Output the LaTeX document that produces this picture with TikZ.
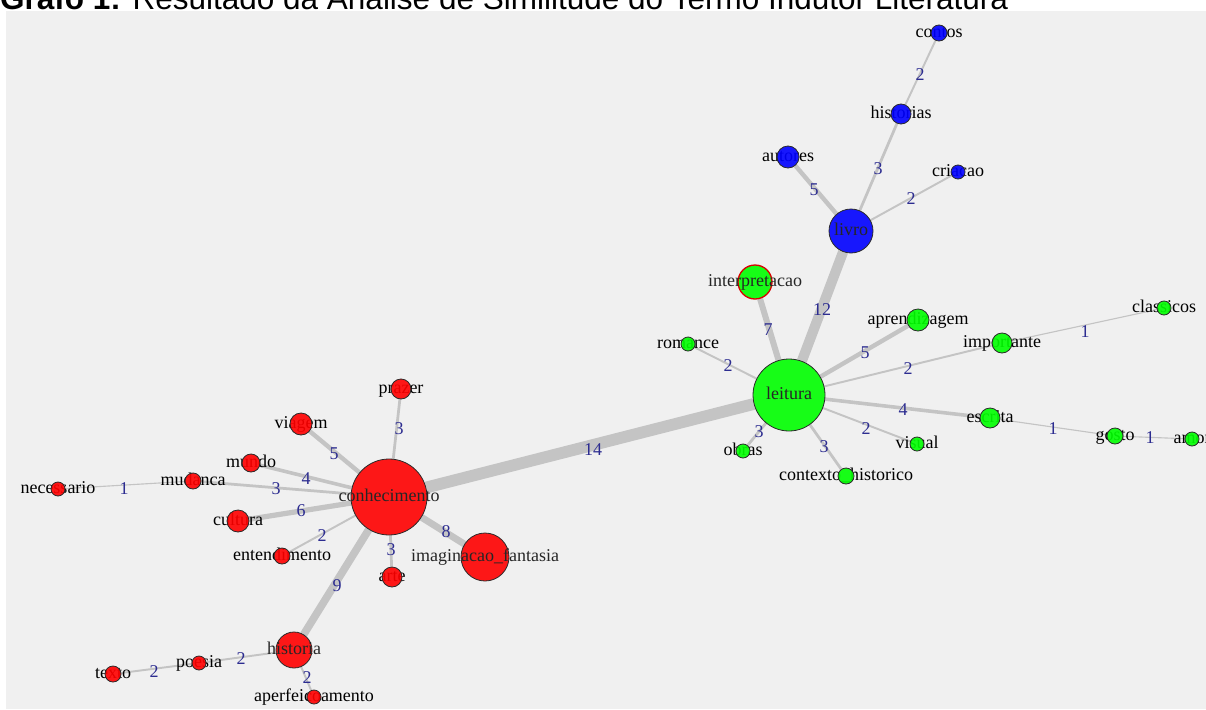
\documentclass[tikz,border=0pt]{standalone}
\usepackage{fontspec}
\setmainfont{Liberation Serif}
\newfontfamily\titlefont{Liberation Sans}
\pgfdeclarelayer{bg}
\pgfsetlayers{bg,main}
\definecolor{panel}{HTML}{F0F0F0}
\definecolor{edgegray}{HTML}{C4C4C4}
\definecolor{numblue}{HTML}{2C2C90}
\definecolor{vblue}{HTML}{0000FF}
\definecolor{vgreen}{HTML}{00FF00}
\definecolor{vred}{HTML}{FF0000}
\definecolor{vborder}{HTML}{2A2A2A}
\tikzset{
  vlabel/.style={font=\fontsize{18}{18}\selectfont, text=black, inner sep=0pt, text height=12.5pt, text depth=4pt},
  vtx/.style={circle, draw=vborder, line width=0.8pt, inner sep=0pt, fill opacity=0.9},
  bluev/.style={vtx, fill=vblue},
  greenv/.style={vtx, fill=vgreen},
  redv/.style={vtx, fill=vred},
  greenred/.style={vtx, fill=vgreen, draw=vred!85!black, line width=1.3pt},
  edgeline/.style={draw=edgegray, line cap=butt},
  weight/.style={font=\fontsize{18}{18}\selectfont, text=numblue, inner sep=0pt, text height=12pt, text depth=0pt},
  titletext/.style={font=\titlefont\fontsize{31.5}{31.5}\selectfont, text=black, inner sep=0pt, anchor=base west}
}
% small vertex: label beneath the circle
% name, x, y, radius, style, label
\newcommand\vertex[6]{%
  \node[vlabel] (#1-l) at (#2,#3) {#6};
  \node[#5, minimum size={#4*2pt}] (#1) at (#2,#3) {};
}
% large vertex: label above the circle
\newcommand\hub[6]{%
  \node[#5, minimum size={#4*2pt}] (#1) at (#2,#3) {};
  \node[vlabel, text=black!85] (#1-l) at (#2,#3) {#6};
}
% from, to, weight, label x, label y
\newcommand\link[5]{%
  \begin{pgfonlayer}{bg}
    \draw[edgeline, line width={#3*0.82pt+0.3pt}] (#1) -- (#2);
  \end{pgfonlayer}
  \node[weight] (w-#1-#2) at (#4,#5) {#3};
}
\begin{document}
\begin{tikzpicture}[x=1pt,y=-1pt]
\useasboundingbox (0,0) rectangle (1206,709);
\clip (0,0) rectangle (1206,709);
\begin{pgfonlayer}{bg}
\fill[white] (0,0) rectangle (1206,709);
\fill[panel] (6,11) rectangle (1206,709);
\end{pgfonlayer}
\node[titletext] (title) at (0,9.5) {\textbf{Grafo 1:} Resultado da Análise de Similitude do Termo Indutor Literatura};

% blue group
\vertex{contos}{939}{33}{8}{bluev}{contos}
\vertex{historias}{901}{114}{10}{bluev}{historias}
\vertex{autores}{788}{157}{11}{bluev}{autores}
\vertex{criacao}{958}{172}{7}{bluev}{criacao}
\hub{livro}{851}{231}{22}{bluev}{livro}
% green group
\hub{interpretacao}{755}{282}{17}{greenred}{interpretacao}
\hub{leitura}{789}{395}{36}{greenv}{leitura}
\vertex{romance}{688}{344}{7}{greenv}{romance}
\vertex{aprendizagem}{918}{320}{11}{greenv}{aprendizagem}
\vertex{importante}{1002}{343}{10}{greenv}{importante}
\vertex{classicos}{1164}{308}{7}{greenv}{classicos}
\vertex{escrita}{990}{418}{10}{greenv}{escrita}
\vertex{gosto}{1115}{436}{8}{greenv}{gosto}
\vertex{amor}{1192}{439}{7}{greenv}{amor}
\vertex{visual}{917}{444}{7}{greenv}{visual}
\vertex{obras}{743}{451}{7}{greenv}{obras}
\vertex{contexto}{846}{476}{8}{greenv}{contexto\_historico}
% red group
\vertex{prazer}{401}{389}{10}{redv}{prazer}
\vertex{viagem}{301}{424}{11}{redv}{viagem}
\vertex{mundo}{251}{463}{9}{redv}{mundo}
\vertex{mudanca}{193}{481}{8}{redv}{mudanca}
\vertex{necessario}{58}{489}{7}{redv}{necessario}
\hub{conhecimento}{389}{497}{38}{redv}{conhecimento}
\vertex{cultura}{238}{521}{11}{redv}{cultura}
\vertex{entendimento}{282}{556}{8}{redv}{entendimento}
\hub{imaginacao}{485}{557}{24}{redv}{imaginacao\_fantasia}
\vertex{arte}{392}{577}{10}{redv}{arte}
\hub{historia}{294}{650}{18}{redv}{historia}
\vertex{poesia}{199}{663}{7}{redv}{poesia}
\vertex{texto}{113}{674}{8}{redv}{texto}
\vertex{aperfeicoamento}{314}{697}{7}{redv}{aperfeicoamento}

% edges
\link{contos}{historias}{2}{920}{74}
\link{historias}{livro}{3}{878}{168}
\link{autores}{livro}{5}{814}{189}
\link{criacao}{livro}{2}{911}{198}
\link{livro}{leitura}{12}{822}{309}
\link{interpretacao}{leitura}{7}{768}{329}
\link{romance}{leitura}{2}{728}{365}
\link{aprendizagem}{leitura}{5}{865}{352}
\link{importante}{leitura}{2}{908}{368}
\link{importante}{classicos}{1}{1085}{331}
\link{leitura}{escrita}{4}{903}{409}
\link{escrita}{gosto}{1}{1053}{428}
\link{gosto}{amor}{1}{1150}{437}
\link{leitura}{visual}{2}{866}{428}
\link{leitura}{obras}{3}{759}{431}
\link{leitura}{contexto}{3}{824}{446}
\link{conhecimento}{leitura}{14}{593}{449}
\link{conhecimento}{prazer}{3}{399}{428}
\link{conhecimento}{viagem}{5}{334}{453}
\link{conhecimento}{mundo}{4}{306}{478}
\link{conhecimento}{mudanca}{3}{276}{488}
\link{mudanca}{necessario}{1}{124}{488}
\link{conhecimento}{cultura}{6}{301}{510}
\link{conhecimento}{entendimento}{2}{322}{535}
\link{conhecimento}{imaginacao}{8}{446}{531}
\link{conhecimento}{arte}{3}{391}{549}
\link{conhecimento}{historia}{9}{337}{585}
\link{historia}{poesia}{2}{241}{658}
\link{poesia}{texto}{2}{154}{671}
\link{historia}{aperfeicoamento}{2}{307}{677}
\end{tikzpicture}
\end{document}
